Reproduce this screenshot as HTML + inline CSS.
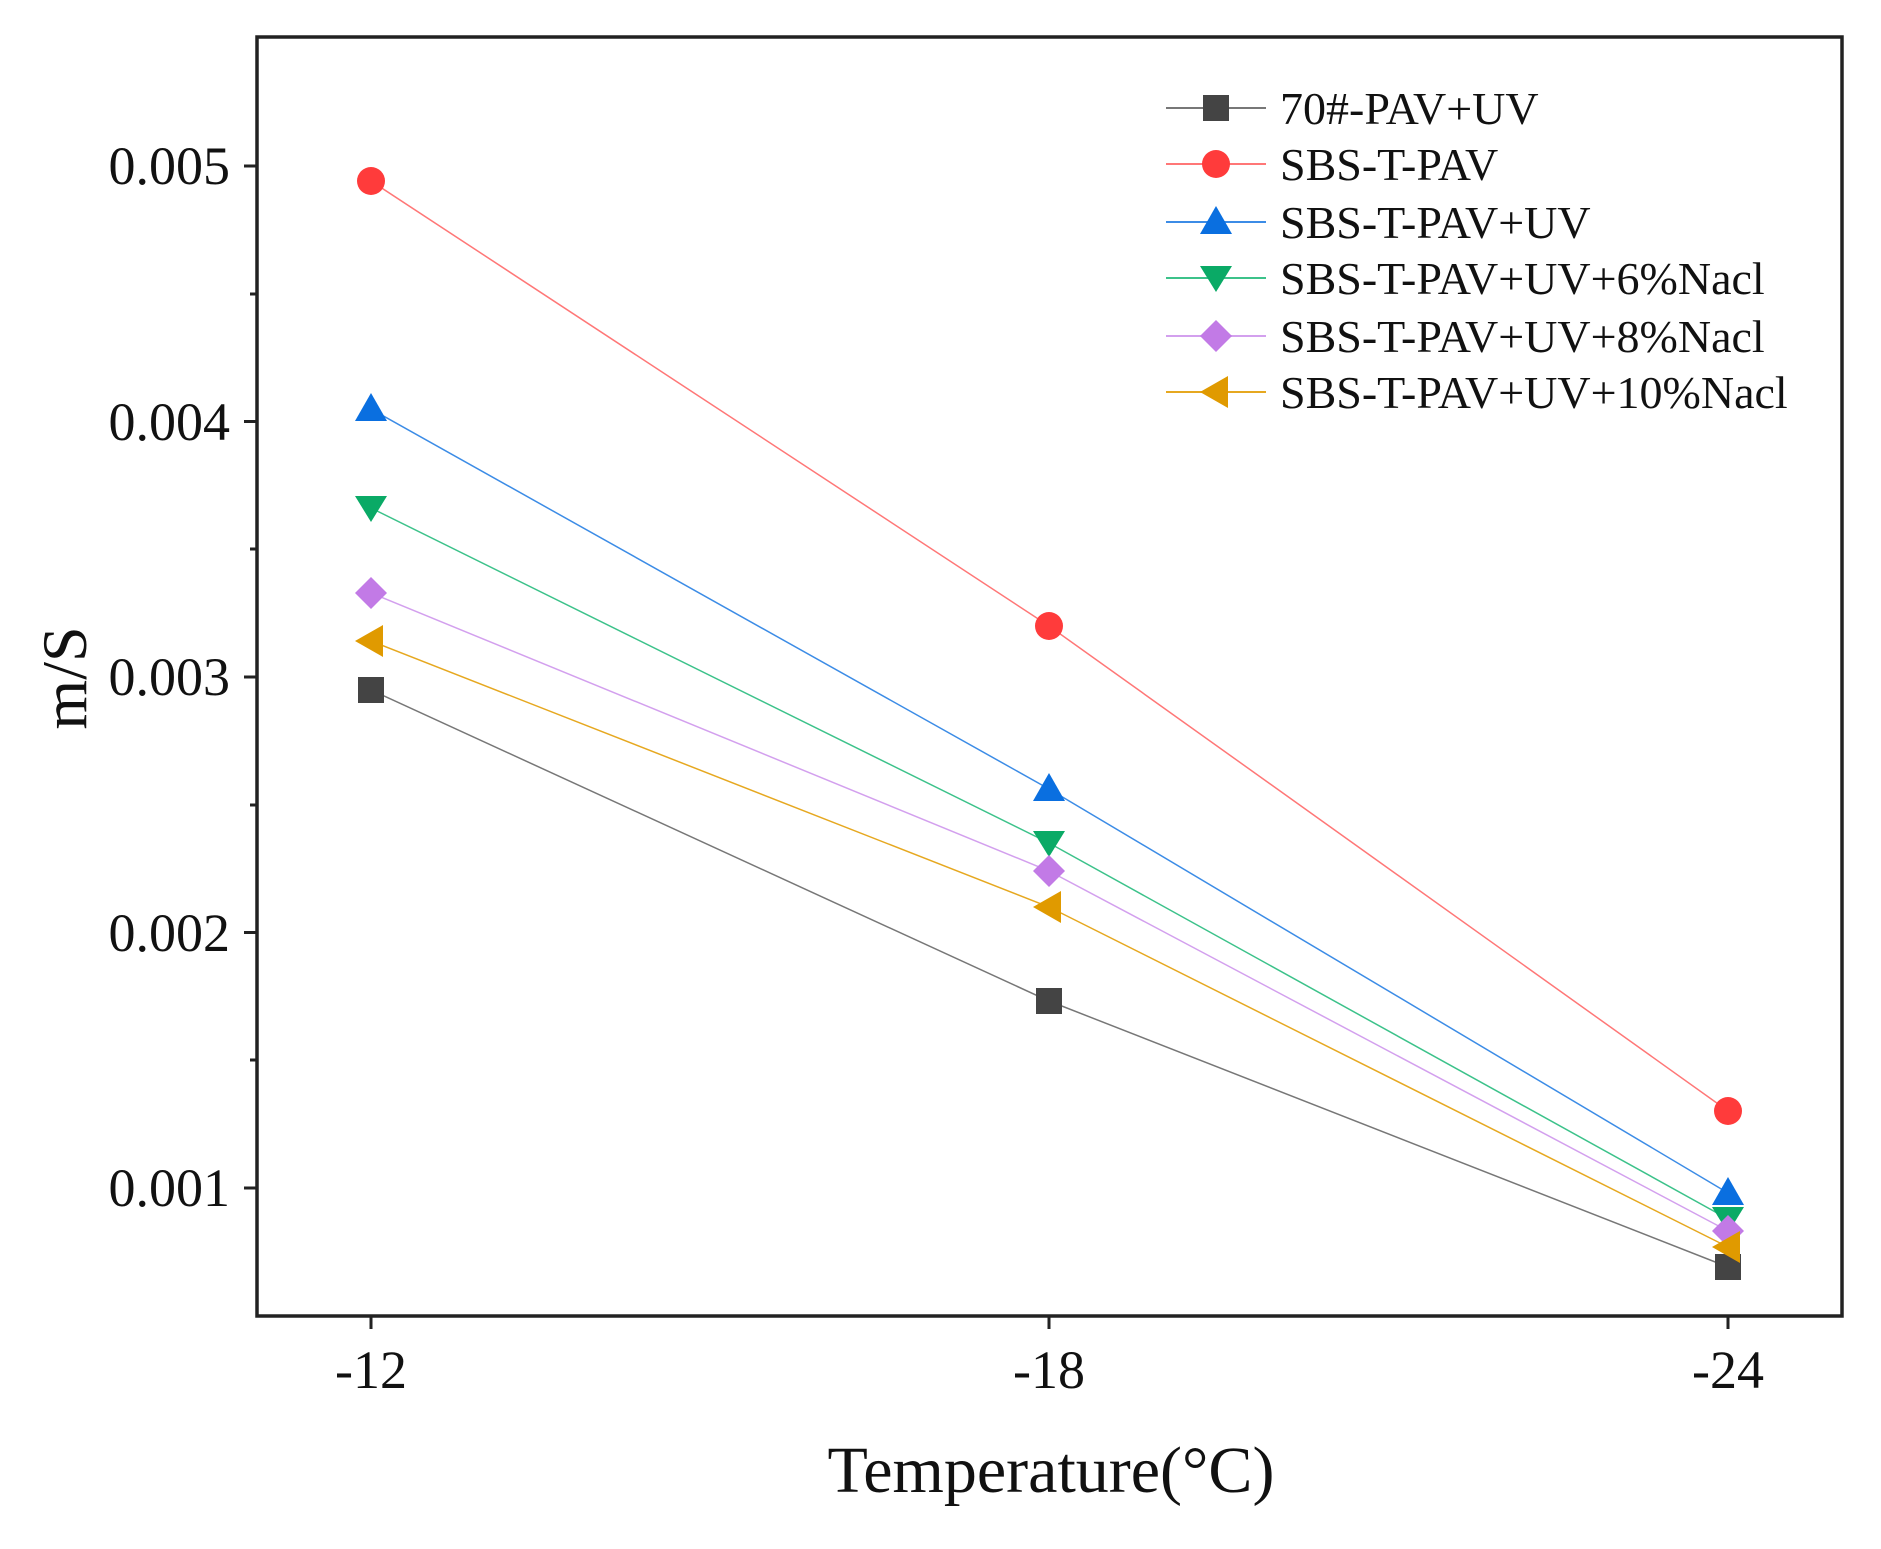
<!DOCTYPE html>
<html><head><style>body{margin:0;background:#fff}</style></head><body>
<svg width="1881" height="1544" xmlns="http://www.w3.org/2000/svg" font-family="Liberation Serif, serif">
<rect width="1881" height="1544" fill="#fff"/>
<rect x="257" y="37" width="1585" height="1279" fill="none" stroke="#222" stroke-width="3.5"/>
<g stroke="#222" stroke-width="3">
<line x1="257" y1="166" x2="244" y2="166"/><line x1="257" y1="421.5" x2="244" y2="421.5"/><line x1="257" y1="677" x2="244" y2="677"/><line x1="257" y1="932.5" x2="244" y2="932.5"/><line x1="257" y1="1188" x2="244" y2="1188"/>
<line x1="257" y1="294" x2="250" y2="294"/><line x1="257" y1="549" x2="250" y2="549"/><line x1="257" y1="805" x2="250" y2="805"/><line x1="257" y1="1060" x2="250" y2="1060"/>
<line x1="371" y1="1316" x2="371" y2="1329"/><line x1="1049" y1="1316" x2="1049" y2="1329"/><line x1="1728" y1="1316" x2="1728" y2="1329"/>
</g>
<g font-size="54" text-anchor="end" fill="#111">
<text x="230" y="184">0.005</text><text x="230" y="440">0.004</text><text x="230" y="695">0.003</text><text x="230" y="951">0.002</text><text x="230" y="1206">0.001</text>
</g>
<g font-size="54" text-anchor="middle" fill="#111">
<text x="371" y="1388">-12</text><text x="1049" y="1388">-18</text><text x="1728" y="1388">-24</text>
</g>
<text x="1051" y="1492" font-size="66" text-anchor="middle" fill="#111">Temperature(°C)</text>
<text transform="translate(86,678) rotate(-90)" font-size="64" text-anchor="middle" fill="#111">m/S</text>
<g fill="none" stroke-width="1.5">
<polyline points="371,690 1049,1001 1728,1267" stroke="#777"/>
<polyline points="371,181 1049,626 1728,1111" stroke="#f77"/>
<polyline points="371,409 1049,789 1728,1193" stroke="#3c8ce6"/>
<polyline points="371,508 1049,843 1728,1219" stroke="#3cc28a"/>
<polyline points="371,593 1049,871 1728,1231" stroke="#d3a0ee"/>
<polyline points="371,641 1049,907 1728,1247" stroke="#e6a820"/>
</g>
<defs>
<rect id="sq" x="-13" y="-13" width="26" height="26" fill="#444"/>
<circle id="ci" r="14" fill="#ff3b3b"/>
<polygon id="up" points="0,-16 16,12 -16,12" fill="#0a6fe0"/>
<polygon id="dn" points="0,14 16,-12 -16,-12" fill="#0aaa66"/>
<polygon id="di" points="0,-16 16,0 0,16 -16,0" fill="#c27ae6"/>
<polygon id="lf" points="-16,0 12,-16 12,16" fill="#e09a00"/>
</defs>
<use href="#sq" x="371" y="690"/><use href="#sq" x="1049" y="1001"/><use href="#sq" x="1728" y="1267"/>
<use href="#ci" x="371" y="181"/><use href="#ci" x="1049" y="626"/><use href="#ci" x="1728" y="1111"/>
<use href="#up" x="371" y="409"/><use href="#up" x="1049" y="789"/><use href="#up" x="1728" y="1193"/>
<use href="#dn" x="371" y="508"/><use href="#dn" x="1049" y="843"/><use href="#dn" x="1728" y="1219"/>
<use href="#di" x="371" y="593"/><use href="#di" x="1049" y="871"/><use href="#di" x="1728" y="1231"/>
<use href="#lf" x="371" y="641"/><use href="#lf" x="1049" y="907"/><use href="#lf" x="1728" y="1247"/>
<g stroke-width="2">
<line x1="1166" y1="108" x2="1266" y2="108" stroke="#777"/>
<line x1="1166" y1="164" x2="1266" y2="164" stroke="#f77"/>
<line x1="1166" y1="222" x2="1266" y2="222" stroke="#3c8ce6"/>
<line x1="1166" y1="278" x2="1266" y2="278" stroke="#3cc28a"/>
<line x1="1166" y1="336" x2="1266" y2="336" stroke="#d3a0ee"/>
<line x1="1166" y1="392" x2="1266" y2="392" stroke="#e6a820"/>
</g>
<use href="#sq" x="1216" y="108"/><use href="#ci" x="1216" y="164"/><use href="#up" x="1216" y="222"/>
<use href="#dn" x="1216" y="278"/><use href="#di" x="1216" y="336"/><use href="#lf" x="1216" y="392"/>
<g font-size="46" fill="#111">
<text x="1280" y="124">70#-PAV+UV</text>
<text x="1280" y="180">SBS-T-PAV</text>
<text x="1280" y="238">SBS-T-PAV+UV</text>
<text x="1280" y="294">SBS-T-PAV+UV+6%Nacl</text>
<text x="1280" y="352">SBS-T-PAV+UV+8%Nacl</text>
<text x="1280" y="408">SBS-T-PAV+UV+10%Nacl</text>
</g>
</svg>
</body></html>
